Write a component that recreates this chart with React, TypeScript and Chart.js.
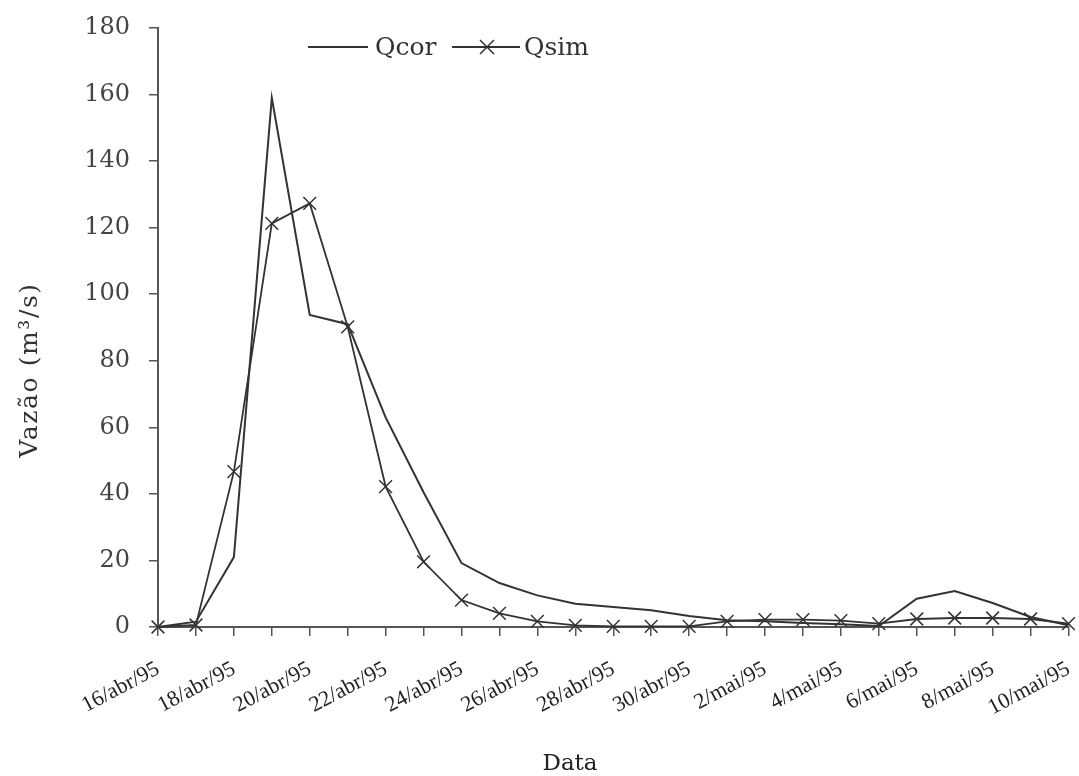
import React, { useEffect, useRef } from "react";
import { Chart, registerables } from "chart.js";

Chart.register(...registerables);

const dates = [
  "16/abr/95", "17/abr/95", "18/abr/95", "19/abr/95", "20/abr/95", "21/abr/95",
  "22/abr/95", "23/abr/95", "24/abr/95", "25/abr/95", "26/abr/95", "27/abr/95",
  "28/abr/95", "29/abr/95", "30/abr/95", "1/mai/95", "2/mai/95", "3/mai/95",
  "4/mai/95", "5/mai/95", "6/mai/95", "7/mai/95", "8/mai/95", "9/mai/95", "10/mai/95",
];

const qcor = [
  0, 1.6, 21, 159, 93.8, 91, 63, 40.5, 19.2, 13.2, 9.5, 7, 6, 5, 3.3,
  2, 1.7, 1.2, 0.8, 0.3, 8.5, 10.8, 7.2, 3, 0.5,
];

const qsim = [
  0, 0.6, 46.7, 121.3, 127.3, 90.2, 42.2, 19.6, 8.1, 4.1, 1.7, 0.5, 0.2, 0.2, 0.2,
  1.7, 2.2, 2.2, 1.9, 1, 2.4, 2.7, 2.7, 2.4, 1,
];

const yTicks = [0, 20, 40, 60, 80, 100, 120, 140, 160, 180];

const seriesNames = ["Qcor", "Qsim"];
const xTitle = "Data";
const yTitle = "Vazão (m³/s)";

const INK = "#333";
const SERIF = '"DejaVu Serif", serif';
const TIMES = '"Liberation Serif", serif';

const decorPlugin = {
  id: "decor",
  afterDraw(chart: any) {
    const ctx = chart.ctx;
    ctx.save();
    // legend
    ctx.strokeStyle = INK;
    ctx.fillStyle = INK;
    ctx.lineWidth = 2;
    const y = 47;
    ctx.beginPath();
    ctx.moveTo(308, y);
    ctx.lineTo(368, y);
    ctx.stroke();
    ctx.font = "25px " + SERIF;
    ctx.textBaseline = "middle";
    ctx.textAlign = "left";
    ctx.fillText(seriesNames[0], 375, y + 1);
    ctx.beginPath();
    ctx.moveTo(452, y);
    ctx.lineTo(520, y);
    ctx.stroke();
    const cx = 487;
    const r = 7;
    ctx.lineWidth = 1.5;
    ctx.beginPath();
    ctx.moveTo(cx - r, y - r);
    ctx.lineTo(cx + r, y + r);
    ctx.moveTo(cx - r, y + r);
    ctx.lineTo(cx + r, y - r);
    ctx.stroke();
    ctx.fillText(seriesNames[1], 524, y + 1);

    // x title
    ctx.fillStyle = "#222";
    ctx.font = "23px " + SERIF;
    ctx.textAlign = "center";
    ctx.textBaseline = "middle";
    ctx.fillText(xTitle, 570, 764);

    // y title
    ctx.save();
    ctx.translate(30, 370);
    ctx.rotate(-Math.PI / 2);
    ctx.fillStyle = INK;
    ctx.font = "25px " + SERIF;
    try {
      (ctx as any).letterSpacing = "1.6px";
    } catch (e) {}
    ctx.textAlign = "center";
    ctx.textBaseline = "middle";
    ctx.fillText(yTitle, 0, 0);
    ctx.restore();

    ctx.restore();
  },
};

export default function App() {
  const ref = useRef<HTMLCanvasElement | null>(null);

  useEffect(() => {
    if (!ref.current) return;
    const chart = new Chart(ref.current, {
      type: "line",
      data: {
        labels: dates,
        datasets: [
          {
            label: seriesNames[0],
            data: qcor,
            borderColor: INK,
            borderWidth: 2,
            pointRadius: 0,
            tension: 0,
            fill: false,
          },
          {
            label: seriesNames[1],
            data: qsim,
            borderColor: INK,
            borderWidth: 1.8,
            pointStyle: "crossRot",
            pointRadius: 9,
            pointBorderWidth: 1.5,
            pointBorderColor: INK,
            tension: 0,
            fill: false,
          },
        ],
      },
      options: {
        responsive: false,
        animation: false,
        clip: false as any,
        layout: { padding: { left: 8, right: 7, top: 28, bottom: 0 } },
        plugins: {
          legend: { display: false },
          tooltip: { enabled: false },
        },
        scales: {
          x: {
            type: "category",
            offset: false,
            grid: {
              display: true,
              drawOnChartArea: false,
              drawTicks: true,
              tickLength: 9,
              color: "#555",
              lineWidth: 1.5,
            },
            border: { display: true, color: "#555", width: 2 },
            ticks: {
              autoSkip: false,
              minRotation: 28,
              maxRotation: 28,
              padding: 20,
              color: "#222",
              font: { family: TIMES, size: 22 },
              callback: (_v: any, i: number) => (i % 2 === 0 ? dates[i] : ""),
            },
            title: { display: false },
            afterFit: (s: any) => {
              s.height = 149;
              s.paddingLeft = 0;
              s.paddingRight = 0;
              s.paddingTop = 0;
              s.paddingBottom = 0;
            },
          },
          y: {
            min: 0,
            max: 180,
            afterBuildTicks: (s: any) => {
              s.ticks = yTicks.map((v) => ({ value: v }));
            },
            grid: {
              display: true,
              drawOnChartArea: false,
              drawTicks: true,
              tickLength: 9,
              color: "#555",
              lineWidth: 1.5,
            },
            border: { display: true, color: "#555", width: 2 },
            ticks: {
              padding: 19,
              color: "#444",
              font: { family: SERIF, size: 24 },
            },
            title: { display: false },
            afterFit: (s: any) => {
              s.width = 150;
              s.paddingLeft = 0;
              s.paddingRight = 0;
              s.paddingTop = 0;
              s.paddingBottom = 0;
            },
          },
        },
      },
      plugins: [decorPlugin],
    });
    return () => chart.destroy();
  }, []);

  return (
    <div style={{ position: "fixed", left: 0, top: 0, width: 1079, height: 776, background: "#fff" }}>
      <canvas ref={ref} width={1079} height={776} />
    </div>
  );
}
